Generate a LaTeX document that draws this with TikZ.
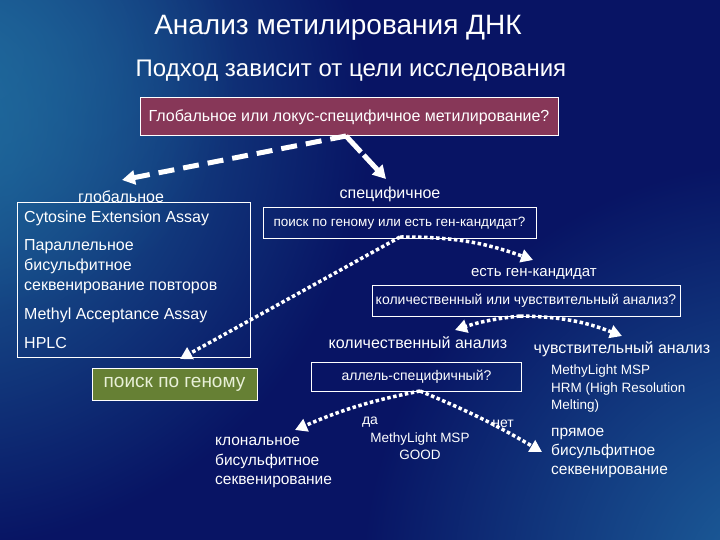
\documentclass[tikz,border=0pt]{standalone}
\usepackage{fontspec}
\setmainfont{Liberation Sans}
\usetikzlibrary{arrows.meta,fadings}
\definecolor{boxred}{RGB}{135,55,88}
\definecolor{boxgreen}{RGB}{102,128,52}
\definecolor{greentext}{RGB}{232,240,215}
\definecolor{navy}{RGB}{8,20,100}
\definecolor{glowA}{RGB}{32,108,158}
\definecolor{glowB}{RGB}{30,100,158}
\tikzfading[name=glowfade, inner color=transparent!0, outer color=transparent!100]
\tikzset{
  box/.style={draw=white, line width=1pt, inner sep=0pt},
  txt/.style={text=white, inner sep=0pt},
  tipA/.style={-{Triangle[length=13pt,width=14pt]}},
  bigdash/.style={white, line width=5pt, dash pattern=on 16pt off 9pt, tipA},
  dotarr/.style={white, line width=3.5pt, dash pattern=on 3.5pt off 2.5pt, -{Triangle[length=12pt,width=13pt]}},
}
\begin{document}
\begin{tikzpicture}[x=1pt,y=-1pt]
\useasboundingbox (0,0) rectangle (720,540);
\fill[navy] (0,0) rectangle (720,540);
\begin{scope}
\clip (0,0) rectangle (720,540);
\fill[glowA, path fading=glowfade] (-60,120) circle (430);
\fill[glowA, path fading=glowfade, fill opacity=0.6] (-20,60) circle (260);
\fill[glowB, path fading=glowfade] (780,580) circle (420);
\end{scope}

% titles
\node[txt, font=\fontsize{28}{30}\selectfont] (title) at (338,28) {Анализ метилирования ДНК};
\node[txt, font=\fontsize{24}{26}\selectfont] (sub) at (351,71) {Подход зависит от цели исследования};

% question 1
\node[box, fill=boxred, minimum width=418pt, minimum height=38pt, text=white,
      font=\fontsize{16}{18}\selectfont] (q1) at (349,117) {Глобальное или локус-специфичное метилирование?};
\coordinate (peak1) at (346,136);
\coordinate (globtip) at (122,180);
\coordinate (spectip) at (386,179);
\draw[bigdash] (peak1) -- (globtip);
\draw[bigdash, dash pattern=on 22pt off 4pt] (peak1) -- (spectip);

% global branch
\node[txt, font=\fontsize{16}{18}\selectfont] (glob) at (121,197) {глобальное};
\node[box, minimum width=233pt, minimum height=154pt] (lbox) at (133.5,280) {};
\node[txt, anchor=west, font=\fontsize{16}{18}\selectfont] (cea) at (24,218) {Cytosine Extension Assay};
\node[txt, anchor=west, align=left, font=\fontsize{16}{20}\selectfont] (pbs) at (24,267) {Параллельное\\бисульфитное\\секвенирование повторов};
\node[txt, anchor=west, font=\fontsize{16}{18}\selectfont] (maa) at (24,315) {Methyl Acceptance Assay};
\node[txt, anchor=west, font=\fontsize{16}{18}\selectfont] (hplc) at (24,343) {HPLC};

% specific branch
\node[txt, font=\fontsize{16}{18}\selectfont] (spec) at (390,194) {специфичное};
\node[box, minimum width=273pt, minimum height=30pt, text=white,
      font=\fontsize{13.5}{16}\selectfont] (q2) at (399.5,223) {поиск по геному или есть ген-кандидат?};
\coordinate (p2) at (400,237);
\node[box, fill=boxgreen, minimum width=165pt, minimum height=32pt, text=greentext,
      font=\fontsize{19}{22}\selectfont] (genome) at (174.5,384) {поиск по геному};
\coordinate (gentip) at (180,359);
\coordinate (candtip) at (533,260);
\draw[dotarr] (p2) -- (gentip);
\draw[dotarr] (p2) to[bend left=10] (candtip);

\node[txt, font=\fontsize{15}{18}\selectfont] (cand) at (534,274) {есть ген-кандидат};
\node[box, minimum width=308pt, minimum height=31pt, text=white,
      font=\fontsize{14}{17}\selectfont] (q3) at (526,300.5) {количественный или чувствительный анализ?};
\coordinate (p3) at (520,316);
\coordinate (quanttip) at (455,330);
\coordinate (senstip) at (622,336);
\draw[dotarr] (p3) to[bend right=6] (quanttip);
\draw[dotarr] (p3) to[bend left=10] (senstip);

\node[txt, font=\fontsize{16}{18}\selectfont] (quant) at (418,343) {количественный анализ};
\node[txt, font=\fontsize{16}{18}\selectfont] (sens) at (622,349) {чувствительный анализ};
\node[txt, anchor=north west, align=left, font=\fontsize{13.5}{17.5}\selectfont] (sensm) at (551,365) {MethyLight MSP\\HRM (High Resolution\\Melting)};

\node[box, minimum width=210pt, minimum height=29pt, text=white,
      font=\fontsize{14}{16}\selectfont] (q4) at (416.5,377) {аллель-специфичный?};
\coordinate (p4) at (420,391);
\coordinate (clontip) at (295,430);
\coordinate (directtip) at (542,452);
\draw[dotarr] (p4) to[bend right=6] (clontip);
\draw[dotarr] (p4) to[bend left=4] (directtip);

\node[txt, font=\fontsize{14}{16}\selectfont] (da) at (370,422) {да};
\node[txt, align=center, font=\fontsize{13.5}{17}\selectfont] (yesm) at (420,446) {MethyLight MSP\\GOOD};
\node[txt, font=\fontsize{14}{16}\selectfont] (net) at (503,424) {нет};
\node[txt, anchor=north west, align=left, font=\fontsize{15.5}{19.5}\selectfont] (clon) at (215,437) {клональное\\бисульфитное\\секвенирование};
\node[txt, anchor=north west, align=left, font=\fontsize{15.5}{19}\selectfont] (direct) at (551,428) {прямое\\бисульфитное\\секвенирование};
\end{tikzpicture}
\end{document}
